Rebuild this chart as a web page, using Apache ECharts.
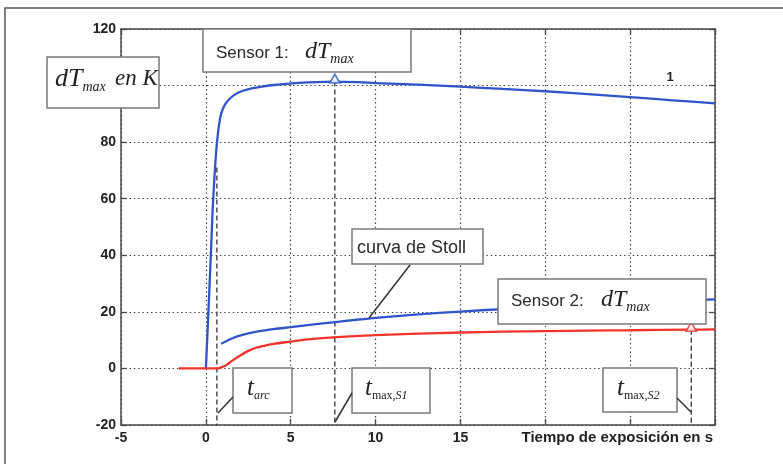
<!DOCTYPE html>
<html>
<head>
<meta charset="utf-8">
<script src="https://cdn.jsdelivr.net/npm/echarts@6/dist/echarts.min.js"></script>
<style>
  html, body { margin: 0; padding: 0; background: #fff; }
  #chart { width: 783px; height: 464px; }
</style>
</head>
<body>
<div id="chart"></div>
<script>
// Sensor 1: temperature rise dT (K) over exposure time (s)
const s1Time = [0, 0.1, 0.2, 0.3, 0.4, 0.5, 0.6, 0.7, 0.8, 0.9, 1.1, 1.35, 1.7, 2.1, 2.7, 3.3, 4, 4.9, 6, 7.6, 9, 10, 12.5, 15, 17.5, 20, 22.5, 25, 27.5, 30];
const s1Temp = [0, 13, 27, 41, 56, 67, 76, 82.5, 87, 90, 93, 95, 96.8, 98, 99, 99.6, 100.2, 100.7, 101.1, 101.4, 101.2, 100.9, 100.3, 99.6, 98.8, 98, 97, 95.9, 94.8, 93.7];

// Stoll criterion curve
const stollTime = [0.9, 1.5, 2, 3, 4, 5, 6, 7.5, 9, 10, 12.5, 15, 17.5, 20, 22.5, 25, 27.5, 30];
const stollTemp = [8.7, 10.5, 11.6, 13, 13.9, 14.6, 15.3, 16.3, 17.3, 17.9, 19.1, 20.1, 21, 21.8, 22.6, 23.3, 23.9, 24.4];

// Sensor 2
const s2Time = [-1.6, 0, 0.7, 1, 1.26, 1.5, 2, 2.5, 3, 3.5, 4, 5, 6, 7.5, 10, 12.5, 15, 17.5, 20, 22.5, 25, 28.6, 30];
const s2Temp = [0, 0, 0, 0.6, 1.4, 2.5, 4.5, 6.2, 7.4, 8.1, 8.7, 9.5, 10.3, 11, 11.8, 12.3, 12.7, 13, 13.2, 13.4, 13.5, 13.7, 13.8];

// Characteristic instants
const tArc = 0.65, tArcTop = 71;
const tMaxS1 = 7.6, dTMaxS1 = 101.4;
const tMaxS2 = 28.6, dTMaxS2 = 13.7;

// Tick labels printed on the time axis
const xTickLabels = [-5, 0, 5, 10, 15];

const zip = (xs, ys) => xs.map((x, i) => [x, ys[i]]);

const BLUE = '#2f55c9';
const RED = '#f2332a';
const FRAME = '#4a4a4a';
const SANS = '"Liberation Sans", Arial, sans-serif';
const SERIF = '"Liberation Serif", "Times New Roman", serif';

const dotted = { color: '#3a3a3a', width: 1.2, type: [1.4, 2.9] };

function axisCommon(extra) {
  return Object.assign({
    type: 'value',
    axisLine: { show: true, onZero: false, lineStyle: { color: FRAME, width: 1.5 } },
    axisTick: { show: true, inside: true, length: 6, lineStyle: { color: FRAME, width: 1.3 } },
    splitLine: { show: false }
  }, extra);
}

const labelFont = { fontFamily: SANS, fontSize: 14, fontWeight: 'bold', color: '#222' };

const option = {
  backgroundColor: '#fff',
  animation: false,
  grid: { left: 121, top: 29, right: 68, bottom: 39, containLabel: false },
  xAxis: [
    axisCommon({
      min: -5, max: 30, interval: 5, position: 'bottom',
      axisLabel: Object.assign({ margin: 6, formatter: v => xTickLabels.includes(v) ? String(v) : '' }, labelFont),
      splitLine: { show: true, lineStyle: dotted }
    }),
    axisCommon({ min: -5, max: 30, interval: 5, position: 'top', axisLabel: { show: false } })
  ],
  yAxis: [
    axisCommon({
      min: -20, max: 120, interval: 20, position: 'left',
      axisLabel: Object.assign({ margin: 5 }, labelFont),
      splitLine: { show: true, lineStyle: dotted }
    }),
    axisCommon({ min: -20, max: 120, interval: 20, position: 'right', axisLabel: { show: false } })
  ],
  series: [
    {
      name: 'Sensor 1', type: 'line', data: zip(s1Time, s1Temp),
      showSymbol: false, symbol: 'none', z: 5, smooth: 0.25,
      lineStyle: { color: BLUE, width: 2.3 }
    },
    {
      name: 'curva de Stoll', type: 'line', data: zip(stollTime, stollTemp),
      showSymbol: false, symbol: 'none', z: 5, smooth: 0.3,
      lineStyle: { color: BLUE, width: 2.3 }
    },
    {
      name: 'Sensor 2', type: 'line', data: zip(s2Time, s2Temp),
      showSymbol: false, symbol: 'none', z: 5, smooth: 0.3,
      lineStyle: { color: RED, width: 2.3 }
    },
    // vertical dashed markers for t_arc, t_max,S1, t_max,S2
    {
      type: 'line', data: [[tArc, tArcTop], [tArc, -20]], symbol: 'none', z: 4,
      lineStyle: { color: '#333', width: 1.3, type: [5, 3] }
    },
    {
      type: 'line', data: [[tMaxS1, dTMaxS1], [tMaxS1, -20]], symbol: 'none', z: 4,
      lineStyle: { color: '#333', width: 1.3, type: [5, 3] }
    },
    {
      type: 'line', data: [[tMaxS2, dTMaxS2], [tMaxS2, -20]], symbol: 'none', z: 4,
      lineStyle: { color: '#333', width: 1.3, type: [5, 3] }
    },
    // maxima markers
    {
      type: 'scatter', data: [[tMaxS1, dTMaxS1]], symbol: 'triangle', symbolSize: [10, 9],
      symbolOffset: [0, -3], z: 6,
      itemStyle: { color: '#fff', borderColor: BLUE, borderWidth: 1.6 }
    },
    {
      type: 'scatter', data: [[tMaxS2, dTMaxS2]], symbol: 'triangle', symbolSize: [10, 9],
      symbolOffset: [0, -3], z: 6,
      itemStyle: { color: '#fff', borderColor: RED, borderWidth: 1.6 }
    }
  ]
};

// annotation boxes and their leader lines
const boxStyle = { fill: '#fff', stroke: '#7a7a7a', lineWidth: 1.5 };
const box = (x, y, w, h) => ({ type: 'rect', shape: { x, y, width: w, height: h }, style: boxStyle, z: 100 });
const leader = (x1, y1, x2, y2) => ({ type: 'line', shape: { x1, y1, x2, y2 }, style: { stroke: '#333', lineWidth: 1.5 }, z: 101 });
const sansText = (x, y, text, size) => ({
  type: 'text', x, y, z: 102,
  style: { text, fontFamily: SANS, fontSize: size, fill: '#2a2a2a', verticalAlign: 'middle', align: 'left' }
});
const mathText = (x, y, text, rich) => ({
  type: 'text', x, y, z: 102,
  style: { text, fill: '#222', verticalAlign: 'middle', align: 'left', fontFamily: SERIF, rich }
});

const dTRich = (main, sub) => ({
  d: { fontFamily: SERIF, fontStyle: 'italic', fontSize: main, lineHeight: main + 4, fill: '#222' },
  m: { fontFamily: SERIF, fontStyle: 'italic', fontSize: sub, lineHeight: 10, verticalAlign: 'bottom', fill: '#222' }
});
const tRich = {
  t: { fontFamily: SERIF, fontStyle: 'italic', fontSize: 25, lineHeight: 28, fill: '#222' },
  u: { fontFamily: SERIF, fontSize: 12, lineHeight: 14, verticalAlign: 'bottom', fill: '#222' },
  i: { fontFamily: SERIF, fontStyle: 'italic', fontSize: 12, lineHeight: 14, verticalAlign: 'bottom', fill: '#222' }
};

option.graphic = [
  // outer frame
  { type: 'rect', shape: { x: 5, y: 8, width: 1000, height: 1000 }, style: { fill: 'none', stroke: '#555', lineWidth: 1.5 }, z: 1 },

  // y-axis title
  box(47, 57, 112, 51),
  mathText(55, 79, '{d|dT}{m|max}', dTRich(26, 14)),
  { type: 'text', x: 115, y: 79, z: 102,
    style: { text: 'en K', fontFamily: SERIF, fontStyle: 'italic', fontSize: 23, fill: '#222', verticalAlign: 'middle' } },

  // Sensor 1 maximum
  box(203, 29, 208, 43),
  sansText(216, 53, 'Sensor 1:', 17),
  mathText(305, 52, '{d|dT}{m|max}', dTRich(24, 14)),

  // Stoll curve
  leader(410, 265, 369, 318),
  box(352, 229, 131, 35),
  sansText(357, 248, 'curva de Stoll', 18),

  // Sensor 2 maximum
  box(498, 279, 208, 45),
  sansText(511, 301, 'Sensor 2:', 17),
  mathText(601, 300, '{d|dT}{m|max}', dTRich(24, 14)),

  // t_arc
  leader(233, 397, 218, 413),
  box(233, 368, 59, 45),
  mathText(247, 388, '{t|t}{i|arc}', tRich),

  // t_max,S1
  leader(352, 393, 335, 422),
  box(352, 368, 78, 45),
  mathText(365, 388, '{t|t}{u|max,}{i|S1}', tRich),

  // t_max,S2
  leader(677, 398, 691, 412),
  box(603, 368, 74, 44),
  mathText(617, 388, '{t|t}{u|max,}{i|S2}', tRich),

  // curve number
  { type: 'text', x: 670, y: 77, z: 102,
    style: { text: '1', fontFamily: SANS, fontSize: 13, fontWeight: 'bold', fill: '#222', align: 'center', verticalAlign: 'middle' } },

  // time axis title
  { type: 'text', x: 713, y: 438, z: 102,
    style: { text: 'Tiempo de exposición en s', fontFamily: SANS, fontSize: 15, fontWeight: 'bold', fill: '#222', align: 'right', verticalAlign: 'middle' } }
];

const chart = echarts.init(document.getElementById('chart'), null, { renderer: 'canvas' });
chart.setOption(option);
</script>
</body>
</html>
